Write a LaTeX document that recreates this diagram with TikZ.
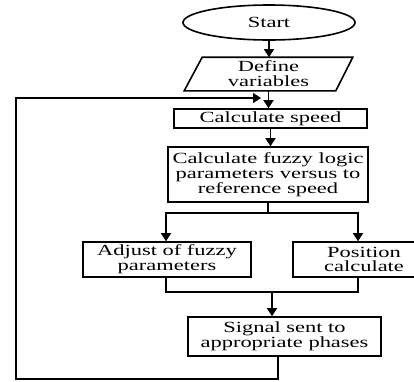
\documentclass[tikz,border=0pt]{standalone}
\usepackage{fontspec}
\setmainfont[FakeStretch=1.45]{Liberation Serif}
\usetikzlibrary{shapes.geometric,arrows.meta,calc}
\begin{document}
\begin{tikzpicture}[x=1pt,y=-1pt,line width=1.6pt,
  lbl/.style={align=center,inner sep=0pt,font=\fontsize{15.5}{14.8}\selectfont},
  box/.style={lbl,draw,rectangle},
  arr/.style={-{Triangle[length=8pt,width=10pt]}}]
\clip (0,0) rectangle (414,381);
\node[lbl,draw,ellipse,minimum width=172pt,minimum height=35pt] (start) at (269,22.5) {Start};
\node[lbl,minimum width=150pt,minimum height=32pt] (def) at (268.5,74) {Define\\variables};
\draw ($(def.north west)+(9.5,0)$) -- ($(def.north east)+(8.5,0)$) -- ($(def.south east)+(-8.5,0)$) -- ($(def.south west)+(-8.5,0)$) -- cycle;
\node[box,minimum width=193pt,minimum height=19pt] (speed) at (270.5,118.5) {Calculate speed};
\node[box,minimum width=200pt,minimum height=55pt] (fuzzy) at (268,174.5) {Calculate fuzzy logic\\parameters versus to\\reference speed};
\node[box,minimum width=168pt,minimum height=35pt] (adjust) at (167,259.5) {Adjust of fuzzy\\parameters};
\node[box,minimum width=142pt,minimum height=35pt] (pos) at (364,259.5) {Position\\calculate};
\node[box,minimum width=193pt,minimum height=39pt] (signal) at (284.5,336.5) {Signal sent to\\appropriate phases};
\coordinate (sl) at (166,213);
\coordinate (sr) at (358,213);
\coordinate (ml) at (166,292);
\coordinate (mr) at (358,292);
\coordinate (mc) at (272,292);
\coordinate (ex) at (278,379);
\coordinate (lb) at (16,379);
\coordinate (lt) at (16,98);
\coordinate (le) at (261,98);
\draw[arr] (start.south) -- (start.south |- def.north);
\draw[arr] (def.south) -- (def.south |- speed.north);
\draw[arr] (speed.south) -- (speed.south |- fuzzy.north);
\draw[arr] (fuzzy.south) -- (fuzzy.south |- sl) -| (sl |- adjust.north);
\draw[arr] (fuzzy.south |- sr) -| (sr |- pos.north);
\draw (adjust.south -| ml) -- (ml) -- (mr) -- (pos.south -| mr);
\draw[arr] (mc) -- (mc |- signal.north);
\draw[arr] (signal.south -| ex) -- (ex) -- (lb) -- (lt) -- (le);
\end{tikzpicture}
\end{document}
